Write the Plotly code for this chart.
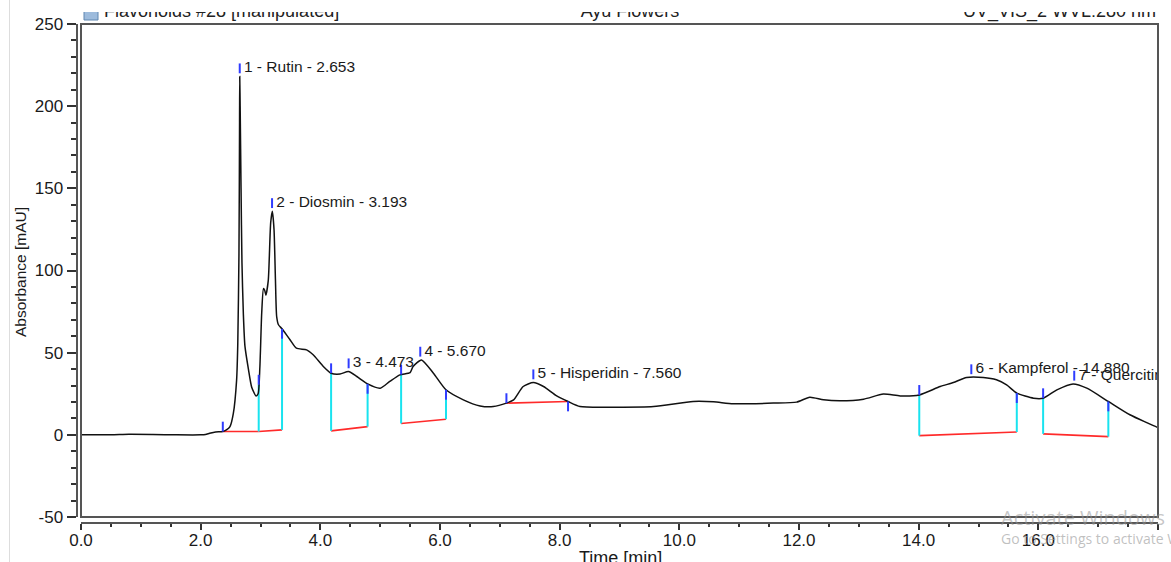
import numpy as np
import plotly.graph_objects as go

W, H = 1171, 562

# ---------------- data ----------------
time_min = [0.00, 0.50, 0.80, 1.20, 1.60, 2.00, 2.08, 2.15, 2.25, 2.37, 2.43, 2.49,
            2.546, 2.60, 2.62, 2.64, 2.65, 2.653, 2.66, 2.675, 2.69, 2.713, 2.74,
            2.80, 2.853, 2.925, 2.96, 2.99, 3.02, 3.05, 3.07, 3.09, 3.13, 3.17,
            3.198, 3.226, 3.25, 3.27, 3.30, 3.36, 3.49, 3.60, 3.77, 3.88, 4.05,
            4.18, 4.33, 4.47, 4.61, 4.79, 5.00, 5.16, 5.33, 5.50, 5.55, 5.69, 5.89,
            6.10, 6.39, 6.67, 6.89, 7.11, 7.23, 7.39, 7.56, 7.73, 7.95, 8.14, 8.34,
            8.90, 9.57, 10.23, 10.57, 10.90, 11.57, 11.96, 12.18, 12.41, 12.69,
            13.08, 13.41, 13.69, 14.01, 14.36, 14.58, 14.80, 15.08, 15.30, 15.47,
            15.64, 15.92, 16.08, 16.31, 16.58, 16.81, 17.17, 17.53, 17.98, 18.00]
absorbance = [0.0, 0.0, 0.3, 0.2, 0.0, 0.0, 0.2, 0.9, 1.7, 2.0, 3.0, 5.0,
              13.0, 33.0, 55.0, 110.0, 190.0, 218.0, 200.0, 150.0, 105.0, 74.0, 54.0,
              39.6, 29.0, 23.7, 25.0, 41.6, 74.0, 89.0, 88.0, 85.0, 94.0, 129.0,
              136.0, 125.0, 94.0, 72.0, 67.0, 64.5, 58.0, 52.7, 51.7, 48.7, 41.6,
              37.5, 37.0, 38.5, 35.5, 31.0, 28.4, 32.5, 36.5, 37.9, 41.6, 45.6, 37.5,
              27.4, 21.3, 17.6, 17.2, 19.3, 21.3, 29.4, 31.8, 29.4, 23.7, 20.3, 17.2,
              16.8, 17.2, 20.3, 20.1, 18.9, 19.3, 19.9, 22.9, 21.3, 20.7,
              21.7, 24.8, 23.7, 24.3, 29.4, 31.8, 34.9, 34.9, 33.5, 30.4,
              25.4, 22.3, 22.3, 27.4, 31.0, 28.4, 20.3, 12.2, 4.7, 4.5]

peak_labels = ["1 - Rutin - 2.653", "2 - Diosmin - 3.193", "3 - 4.473", "4 - 5.670",
               "5 - Hisperidin - 7.560", "6 - Kampferol - 14.880", "7 - Quercitin"]
peak_rt = [2.653, 3.193, 4.473, 5.670, 7.560, 14.880, 16.600]
peak_apex = [218.0, 136.0, 38.5, 45.6, 31.8, 34.9, 31.0]

seg_start_t = [2.37, 2.97, 4.18, 5.35, 7.11, 14.01, 16.08]
seg_start_b = [2.0, 2.0, 2.4, 6.9, 19.3, -0.5, 0.6]
seg_end_t = [2.97, 3.36, 4.79, 6.10, 8.14, 15.64, 17.17]
seg_end_b = [2.0, 3.0, 5.0, 9.5, 20.3, 1.7, -1.1]

x_ticks = [0, 2, 4, 6, 8, 10, 12, 14, 16, 18]
y_ticks = [-50, 0, 50, 100, 150, 200, 250]

header_left = "Flavonoids #28 [manipulated]"
header_center = "Ayu Flowers"
header_right = "UV_VIS_2 WVL:280 nm"

# ---------------- helpers ----------------
def px_x(px):
    return px / W

def px_y(py):
    return (H - py) / H

def curve_at(t):
    return float(np.interp(t, time_min, absorbance))

FONT = "Liberation Sans, Arial, sans-serif"
TICK_LEN = 6.0   # length of blue marker ticks in data units

fig = go.Figure()

# red integration baselines
bx, by = [], []
for t0, b0, t1, b1 in zip(seg_start_t, seg_start_b, seg_end_t, seg_end_b):
    bx += [t0, t1, None]
    by += [b0, b1, None]
fig.add_trace(go.Scatter(x=bx, y=by, mode="lines", line=dict(color="#ff2a2a", width=1.6),
                         hoverinfo="skip", showlegend=False))

# cyan drop lines
cx, cy = [], []
bounds = sorted(set([(t, b) for t, b in zip(seg_start_t, seg_start_b)] +
                    [(t, b) for t, b in zip(seg_end_t, seg_end_b)]))
for t, b in bounds:
    c = curve_at(t)
    if c - b > 1.0:
        cx += [t, t, None]
        cy += [b, c, None]
fig.add_trace(go.Scatter(x=cx, y=cy, mode="lines", line=dict(color="#19e3ef", width=2),
                         hoverinfo="skip", showlegend=False))

# chromatogram
fig.add_trace(go.Scatter(x=time_min, y=absorbance, mode="lines",
                         line=dict(color="#111111", width=1.5, shape="spline", smoothing=0.6),
                         hoverinfo="skip", showlegend=False))

# blue marker ticks (peak start above curve, peak end below curve, apex ticks)
tx, ty = [], []
for t in seg_start_t:
    c = curve_at(t)
    tx += [t, t, None]
    ty += [c, c + TICK_LEN, None]
for t in seg_end_t:
    if t in seg_start_t:
        continue
    c = curve_at(t)
    tx += [t, t, None]
    ty += [c - TICK_LEN, c, None]
for t, a in zip(peak_rt, peak_apex):
    tx += [t, t, None]
    ty += [a + 2.0, a + 2.0 + TICK_LEN, None]
fig.add_trace(go.Scatter(x=tx, y=ty, mode="lines", line=dict(color="#2f3cff", width=2),
                         hoverinfo="skip", showlegend=False))

# peak labels
fig.add_trace(go.Scatter(x=[t + 0.07 for t in peak_rt],
                         y=[a + 2.0 + TICK_LEN / 2 for a in peak_apex],
                         mode="text", text=peak_labels, textposition="middle right",
                         textfont=dict(family=FONT, size=15.5, color="#1a1a1a"),
                         cliponaxis=True, hoverinfo="skip", showlegend=False))

# header (partly cut off at the top)
fig.add_trace(go.Scatter(x=[91], y=[-13], mode="markers",
                         marker=dict(symbol="square", size=14, color="#9dbbdc",
                                     line=dict(color="#5f86b0", width=1)),
                         xaxis="x2", yaxis="y2", cliponaxis=True,
                         hoverinfo="skip", showlegend=False))
fig.add_trace(go.Scatter(x=[104, 630, 1156], y=[-12.3, -12.3, -12.3], mode="text",
                         text=[header_left, header_center, header_right],
                         textposition=["middle right", "middle center", "middle left"],
                         textfont=dict(family=FONT, size=18, color="#222222"),
                         xaxis="x2", yaxis="y2", cliponaxis=True,
                         hoverinfo="skip", showlegend=False))

axis_common = dict(showgrid=False, zeroline=False, showline=True, linecolor="#555555",
                   linewidth=2, ticks="outside", tickcolor="#333333", tickwidth=1.5,
                   automargin=False,
                   tickfont=dict(family=FONT, size=17, color="#1a1a1a"))

fig.update_layout(
    width=W, height=H,
    margin=dict(l=0, r=0, t=0, b=0, pad=0, autoexpand=False),
    paper_bgcolor="white", plot_bgcolor="white",
    xaxis=dict(domain=[px_x(81), px_x(1158)], range=[0, 18], anchor="free",
               position=px_y(522.5), tickvals=x_ticks,
               ticktext=[f"{v:.1f}" for v in x_ticks], ticklen=6,
               ticklabelstandoff=-4,
               minor=dict(dtick=0.5, ticklen=3, ticks="outside", tickcolor="#333333",
                          tickwidth=1.5),
               **axis_common),
    yaxis=dict(domain=[px_y(517), px_y(24)], range=[-50, 250], anchor="free",
               position=px_x(76.5), tickvals=y_ticks,
               ticktext=[str(v) for v in y_ticks], ticklen=9,
               minor=dict(dtick=10, ticklen=5, ticks="outside", tickcolor="#333333",
                          tickwidth=1.5),
               **axis_common),
    xaxis2=dict(domain=[0, 1], range=[0, W], visible=False, anchor="y2", automargin=False),
    yaxis2=dict(domain=[px_y(24), px_y(12)], range=[-24, -12], visible=False, anchor="x2",
                automargin=False),
    shapes=[
        dict(type="rect", xref="x domain", yref="y domain", x0=0, x1=1, y0=0, y1=1,
             line=dict(color="#555555", width=2), layer="above"),
        dict(type="line", xref="paper", yref="paper", x0=px_x(9.5), x1=px_x(9.5),
             y0=0, y1=1, line=dict(color="#dddddd", width=1)),
    ],
    annotations=[
        dict(text="Absorbance [mAU]", xref="paper", yref="paper", x=px_x(20), y=px_y(272),
             textangle=-90, showarrow=False, xanchor="center", yanchor="middle",
             font=dict(family=FONT, size=15.5, color="#1a1a1a")),
        dict(text="Time [min]", xref="paper", yref="paper", x=px_x(620), y=px_y(558),
             showarrow=False, xanchor="center", yanchor="middle",
             font=dict(family=FONT, size=18, color="#1a1a1a")),
        dict(text="Activate Windows", xref="paper", yref="paper", x=px_x(999), y=px_y(517),
             showarrow=False, xanchor="left", yanchor="middle",
             font=dict(family="Open Sans, Noto Sans, sans-serif", size=20,
                       color="rgba(150,150,150,0.55)")),
        dict(text="Go to Settings to activate Windows.", xref="paper", yref="paper",
             x=px_x(999), y=px_y(538), showarrow=False, xanchor="left", yanchor="middle",
             font=dict(family="Open Sans, Noto Sans, sans-serif", size=14,
                       color="rgba(150,150,150,0.6)")),
    ],
)

fig.write_html("out.html")
